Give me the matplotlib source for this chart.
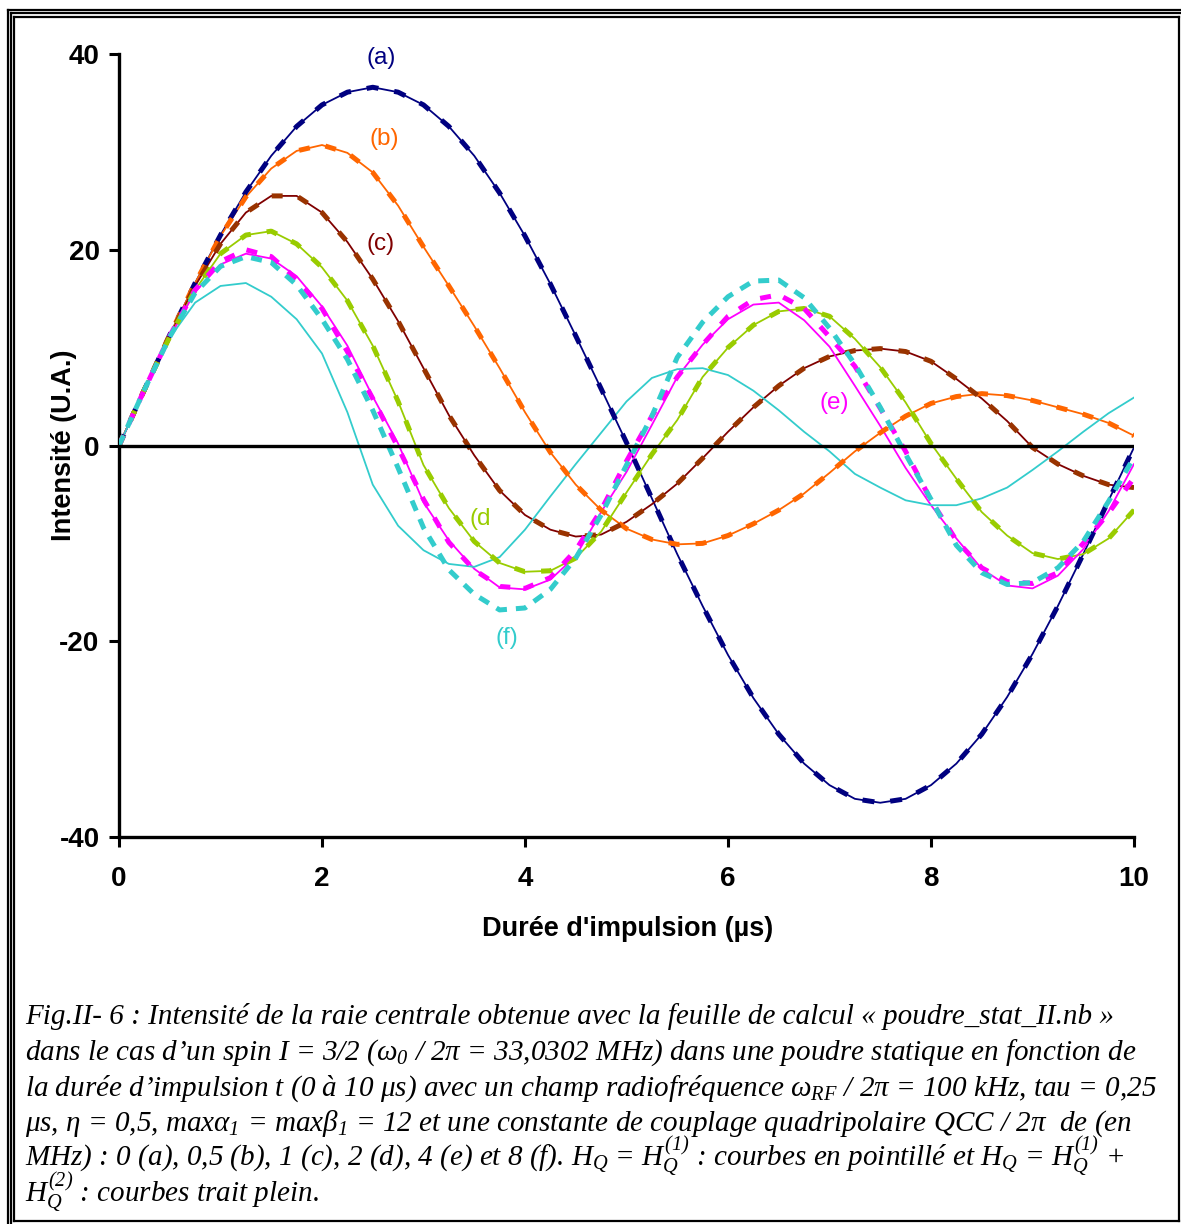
import numpy as np
import matplotlib
matplotlib.use("Agg")
import matplotlib.pyplot as plt
from matplotlib.lines import Line2D

plt.rcParams['font.family'] = ['Liberation Sans', 'DejaVu Sans']
plt.rcParams['axes.unicode_minus'] = False
plt.rcParams['mathtext.fontset'] = 'custom'
plt.rcParams['mathtext.rm'] = 'Liberation Serif:italic'
plt.rcParams['mathtext.it'] = 'Liberation Serif:italic'
plt.rcParams['mathtext.default'] = 'it'

# pulse length (us), one point every 0.25 us
t_us = np.linspace(0, 10, 41)

# H_Q = H_Q(1)+H_Q(2) (solid) ; for a-d the H_Q(1) dashed curves coincide
int_a = [0, 5.7, 11.3, 16.6, 21.5, 25.9, 29.6, 32.6, 34.8, 36.1, 36.6, 36.1, 34.8, 32.6, 29.6, 25.8,
         21.4, 16.5, 11.2, 5.8, 0.3, -5.4, -11.1, -16.4, -21.4, -25.8, -29.5, -32.5, -34.7, -36.1,
         -36.5, -36.1, -34.7, -32.5, -29.5, -25.7, -21.3, -16.4, -11.1, -5.6, -0.2]
int_b = [0, 5.7, 11.3, 16.6, 21.4, 25.4, 28.3, 30.1, 30.7, 29.9, 27.9, 24.5, 20.3, 16.3, 12.2, 7.9,
         3.4, -0.7, -4.0, -6.6, -8.5, -9.6, -10.1, -10.0, -9.2, -8.0, -6.6, -4.9, -2.8, -0.6,
         1.3, 3.0, 4.3, 5.0, 5.3, 5.1, 4.6, 3.9, 3.2, 2.3, 1.0]
int_c = [0, 5.7, 11.2, 16.3, 20.6, 23.8, 25.5, 25.5, 23.8, 20.8, 17.0, 12.7, 7.9, 3.1, -1.0, -4.6,
         -7.1, -8.6, -9.3, -9.1, -7.8, -6.0, -3.9, -1.3, 1.4, 3.9, 6.1, 7.9, 9.1, 9.7,
         9.9, 9.6, 8.6, 6.8, 4.8, 2.5, -0.2, -1.9, -3.1, -4.0, -4.3]
int_d = [0, 5.7, 11.1, 15.9, 19.6, 21.5, 21.9, 20.6, 18.2, 14.8, 10.2, 4.5, -2.0, -6.4, -9.8, -12.0,
         -12.9, -12.8, -11.5, -8.8, -4.8, -0.9, 2.6, 7.0, 10.0, 12.3, 13.7, 14.0, 13.2, 10.9,
         8.0, 4.4, 0.2, -3.4, -6.8, -9.2, -11.0, -11.6, -11.1, -9.5, -6.6]
int_e = [0, 5.6, 11.1, 15.7, 18.5, 19.6, 19.1, 17.3, 14.2, 10.2, 5.0, 0.2, -5.8, -9.7, -12.6, -14.5,
         -14.7, -13.7, -11.3, -6.8, -2.7, 2.1, 7.0, 10.3, 12.9, 14.4, 14.6, 12.8, 10.1, 6.1,
         2.0, -2.3, -6.1, -9.5, -12.6, -14.3, -14.6, -13.3, -10.6, -6.7, -1.9]
int_f = [0, 5.6, 11.0, 14.6, 16.3, 16.6, 15.2, 12.9, 9.4, 3.4, -4.0, -8.2, -10.7, -12.1, -12.4, -11.4,
         -8.6, -5.2, -1.9, 1.3, 4.5, 6.9, 7.8, 7.9, 7.2, 5.6, 3.6, 1.4, -0.6, -2.9,
         -4.3, -5.6, -6.1, -6.1, -5.4, -4.3, -2.5, -0.6, 1.4, 3.3, 4.9]

# H_Q = H_Q(1) only (dashed)
dash_a = int_a
dash_b = int_b
dash_c = int_c
dash_d = int_d
dash_e = [0, 5.7, 11.2, 15.9, 18.8, 20.0, 19.3, 17.0, 14.0, 9.6, 4.8, -0.2, -5.5, -9.9, -12.7, -14.4,
          -14.6, -13.5, -10.7, -6.6, -1.6, 3.0, 7.0, 10.3, 13.2, 14.9, 15.4, 14.0, 11.1, 8.1,
          3.8, -0.6, -5.6, -9.7, -12.5, -13.9, -14.1, -13.0, -10.0, -6.9, -3.3]
dash_f = [0, 5.7, 11.1, 15.6, 18.3, 19.3, 18.7, 16.4, 12.9, 8.8, 3.6, -2.3, -8.4, -12.7, -15.2, -16.8,
          -16.6, -14.7, -11.5, -7.1, -2.0, 3.0, 9.0, 12.6, 15.2, 16.8, 16.9, 15.1, 12.0, 8.3,
          3.9, -0.9, -5.5, -10.2, -13.0, -14.2, -14.0, -12.5, -9.8, -5.7, -1.2]

curve_names = ['(a)', '(b)', '(c)', '(d', '(e)', '(f)']
solid_colors = ['#000080', '#FF6600', '#800000', '#99CC00', '#FF00FF', '#33CCCC']
dash_colors = ['#000080', '#FF6600', '#993300', '#99CC00', '#FF00FF', '#33CCCC']
label_pos = [(2.58, 39.6), (2.61, 31.3), (2.58, 20.6), (3.56, -7.5), (7.05, 4.3), (3.82, -19.7)]

solids = [int_a, int_b, int_c, int_d, int_e, int_f]
dasheds = [dash_a, dash_b, dash_c, dash_d, dash_e, dash_f]
dash_patterns = [(2.4, 3.2), (2.2, 3.2), (2.2, 3.2), (2.2, 3.2), (2.2, 2.6), (2.2, 1.8)]

W, H = 1181, 1224
fig = plt.figure(figsize=(W / 100, H / 100), dpi=100)
ax = fig.add_axes([119 / W, 1 - 837 / H, (1134 - 119) / W, (837 - 54) / H])

# solid curves first, dashed ones on top
for vals, col in zip(solids, solid_colors):
    ax.plot(t_us, vals, color=col, lw=1.3, zorder=2)
for vals, col, pat in zip(dasheds, dash_colors, dash_patterns):
    ax.plot(t_us, vals, color=col, lw=3.6, dashes=pat, zorder=3)

ax.axhline(0, color='black', lw=2.4, zorder=4)

for name, col, (x, y) in zip(curve_names, solid_colors, label_pos):
    ax.text(x, y, name, color=col, fontsize=17.5, ha='center', va='center', zorder=5)

ax.set_xlim(0, 10)
ax.set_ylim(-40, 40)
ax.set_xticks(range(0, 11, 2))
ax.set_yticks(range(-40, 41, 20))
for side in ['top', 'right']:
    ax.spines[side].set_visible(False)
for side in ['left', 'bottom']:
    ax.spines[side].set_linewidth(2.4)
ax.tick_params(direction='out', length=7, width=2.2, labelsize=20)
ax.tick_params(axis='x', pad=14)
ax.tick_params(axis='y', pad=7)
for lab in ax.get_xticklabels() + ax.get_yticklabels():
    lab.set_fontweight('bold')

ax.set_xlabel("Durée d'impulsion (µs)", fontsize=19.5, fontweight='bold')
ax.set_ylabel("Intensité (U.A.)", fontsize=19.5, fontweight='bold')
ax.xaxis.set_label_coords(0.501, -0.101)
ax.yaxis.set_label_coords(-0.041, 0.5)

# caption
caption = [
    "Fig.II- 6 : Intensité de la raie centrale obtenue avec la feuille de calcul « poudre_stat_II.nb »",
    r"dans le cas d’un spin I = 3/2 ($\omega_0$ / 2$\pi$ = 33,0302 MHz) dans une poudre statique en fonction de",
    r"la durée d’impulsion t (0 à 10 $\mu$s) avec un champ radiofréquence $\omega_{RF}$ / 2$\pi$ = 100 kHz, tau = 0,25",
    r"$\mu$s, $\eta$ = 0,5, max$\alpha_1$ = max$\beta_1$ = 12 et une constante de couplage quadripolaire QCC / 2$\pi$  de (en",
    r"MHz) : 0 (a), 0,5 (b), 1 (c), 2 (d), 4 (e) et 8 (f). $H_Q$ = $H_Q^{(1)}$ : courbes en pointillé et $H_Q$ = $H_Q^{(1)}$ +",
    r"$H_Q^{(2)}$ : courbes trait plein.",
]
baselines = [1024, 1060, 1096, 1131, 1166, 1202]
for line, yb in zip(caption, baselines):
    fig.text(25 / W, 1 - yb / H, line, family='Liberation Serif', style='italic',
             fontsize=21, ha='left', va='baseline')

# page frame (triple rule on the top/left edges)
frame = [
    ([8, 8], [10, H]), ([11, 11], [13, H]), ([14, 14], [17, 1221]),
    ([8, W], [10, 10]), ([11, W], [13, 13]), ([14, 1179], [17, 17]),
    ([1179, 1179], [17, 1221]), ([14, 1179], [1221, 1221]),
]
for xs, ys in frame:
    fig.add_artist(Line2D([x / W for x in xs], [1 - y / H for y in ys],
                          color='black', lw=1.6, transform=fig.transFigure))

fig.savefig('out.png', dpi=100, facecolor='white')
